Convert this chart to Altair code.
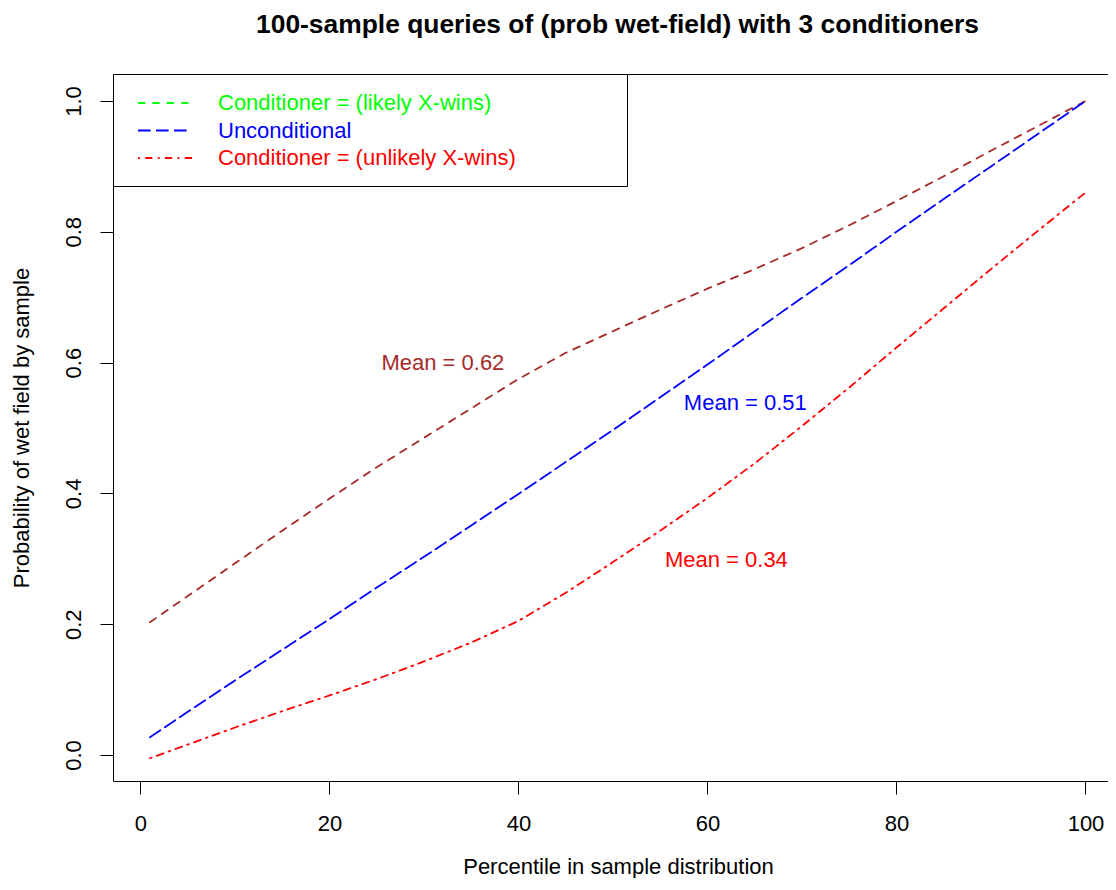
import altair as alt
import pandas as pd

FONT = "Liberation Sans, Arial, Helvetica, sans-serif"

# ---- data ----
pct = [1, 5, 10, 15, 20, 25, 30, 35, 40, 45, 50, 55, 60, 65, 70, 75, 80, 85, 90, 95, 100]
likely = [0.203, 0.243, 0.293, 0.343, 0.392, 0.440, 0.485, 0.530, 0.575, 0.615, 0.648,
          0.681, 0.713, 0.743, 0.775, 0.810, 0.847, 0.885, 0.924, 0.962, 1.000]
uncond = [0.027, 0.066, 0.114, 0.161, 0.208, 0.256, 0.303, 0.351, 0.399, 0.448, 0.497,
          0.547, 0.597, 0.648, 0.699, 0.749, 0.800, 0.850, 0.900, 0.950, 1.000]
unlikely = [-0.005, 0.016, 0.042, 0.067, 0.091, 0.116, 0.143, 0.172, 0.205, 0.248, 0.295,
            0.343, 0.393, 0.446, 0.503, 0.562, 0.623, 0.683, 0.743, 0.802, 0.860]

series_names = ["Conditioner = (likely X-wins)", "Unconditional", "Conditioner = (unlikely X-wins)"]
line_colors = ["#a52a2a", "#0000ff", "#ff0000"]
legend_colors = ["#00ff00", "#0000ff", "#ff0000"]
dashes = [[7.2, 7.2], [12.6, 5.4], [1.8, 5.4, 7.2, 5.4]]

mean_x = [32, 64, 62]
mean_y = [0.60, 0.54, 0.30]
mean_text = ["Mean = 0.62", "Mean = 0.51", "Mean = 0.34"]
mean_color = ["#a52a2a", "#0000ff", "#ff0000"]

x_ticks = [0, 20, 40, 60, 80, 100]
y_ticks = [0.0, 0.2, 0.4, 0.6, 0.8, 1.0]

rows = []
for name, vals in zip(series_names, [likely, uncond, unlikely]):
    for p, v in zip(pct, vals):
        rows.append({"pct": p, "prob": v, "series": name})
df = pd.DataFrame(rows)
tdf = pd.DataFrame({"pct": mean_x, "prob": mean_y, "t": mean_text, "c": mean_color})

W, H = 995, 707
XDOM = [-2.91, -2.91 + W / 9.45]
YDOM = [-0.0398, 1.0413]

xscale = alt.Scale(domain=XDOM, nice=False, zero=False)
yscale = alt.Scale(domain=YDOM, nice=False, zero=False)

X_bottom = alt.X("pct:Q", scale=xscale,
                 axis=alt.Axis(values=x_ticks, title="Percentile in sample distribution",
                               domain=True, domainColor="black", domainWidth=1,
                               grid=False, tickSize=13, tickColor="black", tickWidth=1,
                               labelFont=FONT, labelFontSize=22, labelColor="black",
                               labelBaseline="alphabetic", labelPadding=36.7, labelFlush=False,
                               titleFont=FONT, titleFontSize=22, titleFontWeight="normal",
                               titleColor="black", titleBaseline="alphabetic", titleAlign="center",
                               titleX=505, titleY=92))
X_top = alt.X("pct:Q", scale=xscale,
              axis=alt.Axis(orient="top", title=None, labels=False, ticks=False, grid=False,
                            domain=True, domainColor="black", domainWidth=1))
X_none = alt.X("pct:Q", scale=xscale, axis=None)
Y = alt.Y("prob:Q", scale=yscale,
          axis=alt.Axis(values=y_ticks, format=".1f", title="Probability of wet field by sample",
                        domain=True, domainColor="black", domainWidth=1,
                        grid=False, tickSize=13, tickColor="black", tickWidth=1,
                        labelFont=FONT, labelFontSize=22, labelColor="black",
                        labelAngle=270, labelAlign="center", labelBaseline="alphabetic",
                        labelPadding=20, labelFlush=False,
                        titleFont=FONT, titleFontSize=22, titleFontWeight="normal",
                        titleColor="black", titleAngle=270, titleBaseline="alphabetic",
                        titleAlign="center", titleX=-84.3, titleY=353.5))

lines = alt.Chart(df).mark_line(strokeWidth=1.8, strokeCap="round", strokeJoin="round").encode(
    x=X_bottom, y=Y,
    color=alt.Color("series:N", scale=alt.Scale(domain=series_names, range=line_colors), legend=None),
    strokeDash=alt.StrokeDash("series:N", scale=alt.Scale(domain=series_names, range=dashes), legend=None),
)

label_color = {"expr": "datum.value == 'Unconditional' ? '#0000ff' : (indexof(datum.value, 'unlikely') >= 0 ? '#ff0000' : '#00ff00')"}

# short horizontal stroke as the legend key; the trailing move-to widens the legend frame
legend_kw = dict(title=None, orient="top-left", offset=0, padding=17,
                 fillColor="white", strokeColor="black",
                 symbolType="M-2.4545,0L2.4545,0M40.1,0", symbolSize=484, symbolStrokeWidth=1.8,
                 symbolOffset=23, labelOffset=41,
                 labelFont=FONT, labelFontSize=22, labelLimit=800,
                 rowPadding=4.5, labelColor=label_color)

legend_layer = alt.Chart(df).transform_filter("datum.pct > 1000").mark_line(
    strokeWidth=1.8, strokeCap="round").encode(
    x=X_top, y=Y,
    color=alt.Color("series:N", scale=alt.Scale(domain=series_names, range=legend_colors),
                    legend=alt.Legend(**legend_kw)),
    strokeDash=alt.StrokeDash("series:N", scale=alt.Scale(domain=series_names, range=dashes),
                              legend=alt.Legend(**legend_kw)),
)

texts = alt.Chart(tdf).mark_text(font=FONT, fontSize=22, align="center",
                                 baseline="alphabetic", dy=7.9).encode(
    x=X_none, y=Y, text="t:N", color=alt.Color("c:N", scale=None),
)

chart = alt.layer(lines, texts, legend_layer).resolve_scale(
    color="independent", strokeDash="independent"
).resolve_axis(x="independent").properties(
    width=W, height=H,
    title=alt.TitleParams(text="100-sample queries of (prob wet-field) with 3 conditioners",
                          font=FONT, fontSize=26.4, fontWeight="bold", color="black",
                          anchor="middle", dx=7, baseline="alphabetic", offset=14),
    autosize=alt.AutoSizeParams(type="none"),
    padding={"left": 105, "top": 66, "right": 0, "bottom": 97},
    background="white",
).configure_view(stroke=None)

chart.save("out.html", embed_options={"renderer": "svg", "actions": False})
